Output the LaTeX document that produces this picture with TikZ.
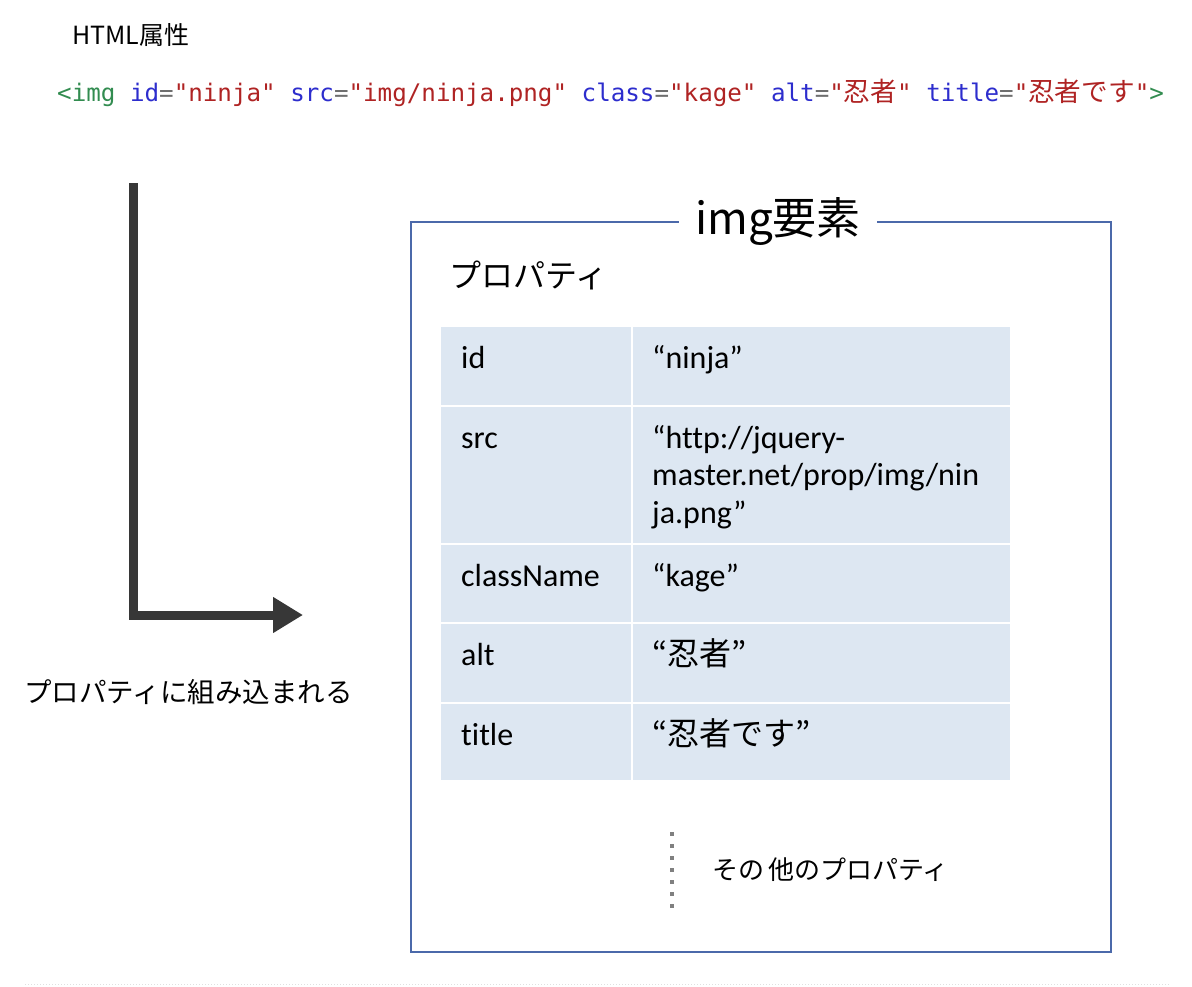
\documentclass[tikz,border=0pt]{standalone}
\usepackage{fontspec}
\setmainfont{Carlito}[Ligatures=NoCommon]
\setmonofont{DejaVu Sans Mono}
\newfontfamily\jp{Noto Sans CJK JP}
\newfontfamily\jpcode[Scale=1.1]{Noto Sans CJK JP}
\usetikzlibrary{positioning,arrows.meta}
\usepackage{xcolor}
\definecolor{tagc}{RGB}{50,140,80}
\definecolor{attrc}{RGB}{45,45,205}
\definecolor{valc}{RGB}{175,35,35}
\definecolor{eqc}{RGB}{110,110,110}
\definecolor{frameblue}{RGB}{75,105,170}
\definecolor{cellblue}{RGB}{221,231,242}
\definecolor{arrowgray}{RGB}{55,55,55}

\begin{document}
\begin{tikzpicture}[x=1pt,y=-1pt,
    cell/.style={fill=cellblue,anchor=north west,inner sep=0pt},
    celltext/.style={anchor=base west,inner sep=0pt,font=\fontsize{32}{37.5}\selectfont},
    frame/.style={draw=frameblue,line width=2pt,anchor=north west,inner sep=0pt},
    flow/.style={draw=arrowgray,line width=9pt,-{Triangle[length=30pt,width=34pt]}}]
  \useasboundingbox (0,0) rectangle (1192,986);
  % attribute source
  \node[anchor=west,inner sep=0pt,font=\jp\fontsize{25}{30}\selectfont] (head) at (72,35) {HTML属性};
  \node[anchor=west,inner sep=0pt,font=\ttfamily\fontsize{24.2}{28}\selectfont] (code) at (57,93)
    {\textcolor{tagc}{<img} \textcolor{attrc}{id}\textcolor{eqc}{=}\textcolor{valc}{"ninja"}
     \textcolor{attrc}{src}\textcolor{eqc}{=}\textcolor{valc}{"img/ninja.png"}
     \textcolor{attrc}{class}\textcolor{eqc}{=}\textcolor{valc}{"kage"}
     \textcolor{attrc}{alt}\textcolor{eqc}{=}\textcolor{valc}{"{\jpcode 忍者}"}
     \textcolor{attrc}{title}\textcolor{eqc}{=}\textcolor{valc}{"{\jpcode 忍者です}"}\textcolor{tagc}{>}};
  % arrow
  \coordinate (down) at (133,183);
  \coordinate (turn) at (133,615);
  \coordinate (into) at (303,615);
  \draw[flow] (down) -- (turn) -- (into);
  \node[anchor=west,inner sep=0pt,font=\jp\fontsize{27.5}{32}\selectfont] (merge) at (24,692) {プロパティに組み込まれる};
  % element box
  \node[frame,minimum width=700,minimum height=730] (elem) at (410,221) {};
  \node[fill=white,inner xsep=16pt,inner ysep=0pt,font=\jp\fontsize{44}{50}\selectfont] (title) at (778,221) {img要素};
  \node[anchor=west,inner sep=0pt,font=\jp\fontsize{32}{38}\selectfont] (props) at (449,275) {プロパティ};
  % property table
  \foreach \t/\h/\k/\v [count=\i] in {327/78/id/{“ninja”},
      407/136/src/{“http://jquery-\\master.net/prop/img/nin\\ja.png”},
      545/77/className/{“kage”},
      624/78/alt/{{\jp “忍者”}},
      704/76/title/{{\jp “忍者です”}}}{
    \node[cell,minimum width=190,minimum height=\h] (key\i) at (441,\t) {};
    \node[cell,minimum width=377,minimum height=\h] (val\i) at (633,\t) {};
    \node[celltext] (ktext\i) at (461,\t+41) {\k};
    \node[celltext] (vtext\i) at (652,\t+41) {\begin{tabular}[t]{@{}l@{}}\v\end{tabular}};
  }
  % others
  \draw[draw=gray,line width=4pt,dash pattern=on 4pt off 8pt] (672,832) -- (672,908);
  \node[anchor=west,inner sep=0pt,font=\jp\fontsize{26}{30}\selectfont] (others) at (712,870) {その\,他のプロパティ};
  \draw[black!12,line width=1pt,dotted] (25,984) -- (1170,984);
\end{tikzpicture}
\end{document}
